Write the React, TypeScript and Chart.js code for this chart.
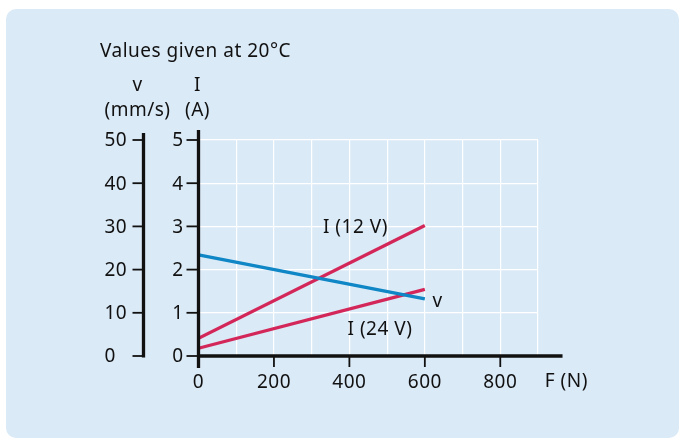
import React, { useEffect, useRef } from "react";
import { Chart, registerables } from "chart.js";

Chart.register(...registerables);

// Data
const forceN = [0, 600];
const speedMmS = [23.4, 13.2];
const current12V = [0.41, 3.02];
const current24V = [0.18, 1.54];

const xTicks = [0, 200, 400, 600, 800];
const iTicks = [0, 1, 2, 3, 4, 5];
const vTicks = [0, 10, 20, 30, 40, 50];

const FONT = '"Noto Sans", sans-serif';
const RED = "#d3275a";
const BLUE = "#0f86c5";

const axesPlugin = {
  id: "customAxes",
  afterDraw(chart: any) {
    const ctx = chart.ctx as CanvasRenderingContext2D;
    const x = chart.scales.x;
    const y = chart.scales.y;
    const yv = chart.scales.yv;
    const x0 = x.getPixelForValue(0);
    const y0 = y.getPixelForValue(0);
    const vx = x0 - 55;
    ctx.save();
    ctx.strokeStyle = "#111";
    ctx.fillStyle = "#111";
    ctx.lineCap = "butt";

    const line = (a: number, b: number, c: number, d: number, w: number) => {
      ctx.lineWidth = w;
      ctx.beginPath();
      ctx.moveTo(a, b);
      ctx.lineTo(c, d);
      ctx.stroke();
    };

    // x axis
    line(x0 - 1.5, y0, x.getPixelForValue(965), y0, 3.3);
    // I axis
    line(x0, y.getPixelForValue(5) - 10, x0, y0 + 12, 3.3);
    // v axis
    line(vx, yv.getPixelForValue(50) - 7, vx, y0 + 1.6, 3.3);

    ctx.font = `19px ${FONT}`;
    (ctx as any).letterSpacing = "0.5px";
    ctx.textBaseline = "middle";

    iTicks.forEach((t) => {
      const p = y.getPixelForValue(t);
      line(x0 - 12, p, x0, p, 1.8);
      ctx.textAlign = "right";
      ctx.fillText(String(t), x0 - 15, p + 1);
    });
    vTicks.forEach((t) => {
      const p = yv.getPixelForValue(t);
      line(vx - 11, p, vx, p, 1.8);
      ctx.textAlign = "left";
      ctx.fillText(String(t), vx - 39, p + 1);
    });
    xTicks.forEach((t) => {
      const p = x.getPixelForValue(t);
      if (t !== 0) line(p, y0, p, y0 + 11, 1.8);
      ctx.textAlign = "center";
      ctx.fillText(String(t), p, y0 + 27);
    });

    ctx.textAlign = "left";
    ctx.fillText("F (N)", x.getPixelForValue(918), y0 + 26);

    // axis titles
    ctx.textBaseline = "alphabetic";
    ctx.fillText("Values given at 20°C", 100, 57);
    ctx.textAlign = "center";
    ctx.fillText("v", vx - 6, 91);
    ctx.fillText("(mm/s)", vx - 6, 116);
    ctx.fillText("I", x0 - 1, 91);
    ctx.fillText("(A)", x0 - 1, 116);

    // series labels
    ctx.textBaseline = "middle";
    ctx.textAlign = "left";
    ctx.fillText("I (12 V)", x.getPixelForValue(330), y.getPixelForValue(2.97));
    ctx.fillText("v", x.getPixelForValue(620), yv.getPixelForValue(12.6));
    ctx.fillText("I (24 V)", x.getPixelForValue(395), y.getPixelForValue(0.6));

    ctx.restore();
  },
};

export default function App() {
  const ref = useRef<HTMLCanvasElement>(null);
  useEffect(() => {
    if (!ref.current) return;
    const chart = new Chart(ref.current, {
      type: "line",
      data: {
        datasets: [
          {
            label: "v",
            data: forceN.map((f, i) => ({ x: f, y: speedMmS[i] })),
            borderColor: BLUE,
            yAxisID: "yv",
          },
          {
            label: "I (12 V)",
            data: forceN.map((f, i) => ({ x: f, y: current12V[i] })),
            borderColor: RED,
            yAxisID: "y",
          },
          {
            label: "I (24 V)",
            data: forceN.map((f, i) => ({ x: f, y: current24V[i] })),
            borderColor: RED,
            yAxisID: "y",
          },
        ],
      },
      options: {
        animation: false,
        responsive: false,
        devicePixelRatio: 1,
        layout: { padding: { left: 198.5, right: 141, top: 140, bottom: 82 } },
        elements: {
          line: { borderWidth: 3.3, tension: 0, borderCapStyle: "butt" },
          point: { radius: 0 },
        },
        plugins: { legend: { display: false }, tooltip: { enabled: false } },
        scales: {
          x: {
            type: "linear",
            min: 0,
            max: 900,
            ticks: { display: false, stepSize: 100 },
            grid: { color: "#ffffff", lineWidth: 1.2, drawTicks: false },
            border: { display: false },
          },
          y: {
            type: "linear",
            min: 0,
            max: 5,
            ticks: { display: false, stepSize: 1 },
            grid: { color: "#ffffff", lineWidth: 1.2, drawTicks: false },
            border: { display: false },
          },
          yv: {
            type: "linear",
            display: false,
            min: 0,
            max: 50,
          },
        },
      },
      plugins: [axesPlugin],
    });
    return () => chart.destroy();
  }, []);

  return (
    <div style={{ position: "fixed", left: 0, top: 0, width: 679, height: 438 }}>
      <div
        style={{
          position: "absolute",
          left: 6,
          top: 9,
          width: 673,
          height: 429,
          background: "#dbeaf7",
          borderRadius: 10,
        }}
      />
      <canvas
        ref={ref}
        width={679}
        height={438}
        style={{ position: "absolute", left: 0, top: 0, width: 679, height: 438 }}
      />
    </div>
  );
}
